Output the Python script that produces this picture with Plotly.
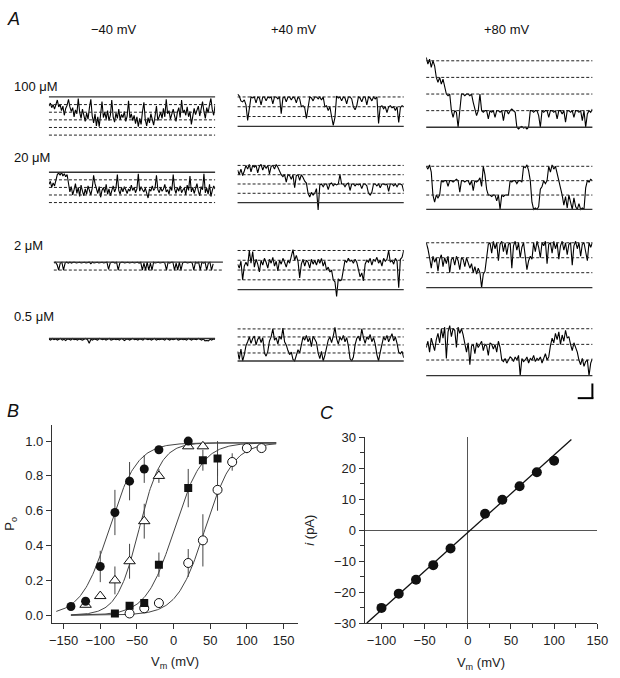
import numpy as np
import plotly.graph_objects as go

# ================= DATA =================
# ---- Panel A: single-channel records (levels = number of open channels) ----
VOLTAGES = ["−40 mV", "+40 mV", "+80 mV"]
CONCS = ["100 μM", "20 μM", "2 μM", "0.5 μM"]
DIRECTION = [-1, 1, 1]           # inward current at -40 mV
N_LEVELS = [[5, 3, 4], [4, 4, 3], [1, 4, 3], [0, 4, 3]]

TR_100_M40 = [1.2,0.8,1.4,1.0,1.6,1.1,0.4,1.3,1.0,1.8,1.2,2.4,1.5,1.1,0.3,1.3,1.9,1.4,2.6,1.7,
              2.2,0.2,2.0,2.8,1.6,2.4,3.2,2.1,2.9,1.4,0.3,2.5,3.4,2.2,3.8,2.6,3.9,2.3,0.6,2.7,
              2.0,2.9,1.8,3.1,2.4,0.4,2.6,3.3,2.1,2.8,1.6,3.0,2.3,2.7,1.9,3.2,2.5,0.5,2.8,2.2,
              3.1,2.4,3.5,2.6,3.9,2.8,3.6,1.9,0.7,3.0,3.8,2.7,3.4,2.2,2.9,3.7,2.5,1.2,3.1,2.4,
              2.0,2.8,1.5,2.6,0.3,2.2,1.8,2.9,2.3,1.6,2.5,3.2,2.0,1.4,2.7,0.4,2.1,1.7,2.4,1.3,
              2.6,1.9,3.6,2.2,1.5,2.3,1.8,1.2,2.5,1.6,0.6,1.9,2.8,1.4,2.1,1.0,0.2,1.7,2.4,1.1]
TR_100_P40 = [3.3,3.1,2.6,2.5,2.7,2.2, 0.6,1.8,
              3.0,2.9,3.0,2.4,3.0,2.9,2.2,3.0,3.0,2.6,3.0,2.9,3.0,2.3,3.0,3.0,2.8,3.0,1.3,2.9,
              3.0,2.5,3.0,3.0,2.7,3.0,2.9,2.4,3.0,2.8,
              2.0,2.1,1.9,0.8,2.0,
              3.0,2.9,2.6,3.0,3.0,2.8,3.0,2.7,3.0,
              2.0,2.1,1.6,2.0, 1.0,0.1,0.9,
              3.1,2.9,3.0,2.6,3.0,2.9,2.3,3.0,3.0,2.8, 2.0,1.7,2.1,
              3.0,2.9,2.5,3.0,3.0,2.2,3.0,2.9,2.6,3.0,2.8,3.0,
              0.3,2.0,2.1,1.8,2.0,1.4,2.0,2.1,1.9,2.0,1.6,2.0,0.4,1.9,2.1,2.0]
TR_100_P80 = [4.2,3.8,4.1,3.6,4.0,3.7, 3.0,2.7,3.0,2.6,2.9,2.5, 2.0,1.9,2.0,
              1.0,0.6,1.0,0.9,0.0,1.0, 2.0,2.0,1.9,2.0,2.0,1.9,2.0,1.5, 1.0,0.7,1.0, 2.0,
              1.0,0.9,1.0,1.0,0.5,1.0,0.9,1.0,0.6,1.0,1.0,0.9,1.0,0.4,1.0,1.0,0.8,1.0,1.1,1.0,0.9,
              0.0,-0.1,0.0,0.05,-0.05,0.0,-0.1,0.0,
              1.0,1.0,0.9,1.0,1.0,0.7,0.0,1.0,0.9,1.0,1.0,0.6,1.0,1.0,0.9,1.0,0.5,1.0,1.0,0.8,
              1.0,0.3,1.0,1.0,0.9,1.0,0.6,1.0,1.0,0.9,1.0,0.4,1.0,0.0,0.8,1.0,0.9,1.1]
TR_20_M40 = [1.6,1.2,2.0,1.4,1.8,1.1,0.3,0.1,0.4,0.0,0.5,0.2,0.6,0.3,1.4,2.6,1.9,3.0,2.3,1.5,
             2.8,2.0,3.2,1.7,2.5,3.1,2.2,2.9,1.8,2.6,3.0,2.1,0.4,1.5,2.3,2.8,1.9,3.3,2.4,2.0,
             2.7,1.6,2.9,2.2,3.1,2.5,1.8,2.6,2.1,0.3,2.4,2.9,2.0,2.6,1.9,2.3,2.8,2.2,2.5,1.7,
             2.4,2.0,2.7,2.2,0.2,2.5,1.9,2.3,2.6,2.1,2.8,3.4,2.2,2.5,1.8,2.4,2.1,0.4,2.3,2.7,
             2.0,2.5,2.2,1.6,2.6,2.3,2.9,1.9,2.4,0.3,2.2,2.8,2.0,2.5,1.8,2.7,2.3,2.1,3.0,1.7,
             2.4,0.5,2.6,2.0,2.8,2.2,1.5,2.5,3.1,1.9,2.3,0.2,2.7,2.1,2.9,1.6,3.2,2.4,1.8,2.2]
TR_20_P40 = [3.5,3.0,3.6,2.9,3.4,
             4.0,3.6,4.1,3.3,4.0,3.8,4.0,3.2,3.9,4.1,3.5,4.0,3.7,4.0,3.1,3.9,4.0,3.6,4.1,3.8,3.4,
             3.0,2.8,3.0,2.2,3.0,2.9,2.5,3.0,1.6,2.9,3.0,2.4,3.0,2.7,
             2.3,2.1, 1.0,0.6,1.1,0.8,1.0, 1.5, -0.8,
             1.9,2.0,1.7,2.0,2.0,1.4,2.0,2.1,1.8,2.0,1.9,2.0, 3.0,
             2.0,2.0,1.7,2.0,2.1,1.3,2.0,2.0,1.8,2.0,1.9,2.0,1.5,2.0,2.0,1.8,
             1.0,0.8,1.1,
             2.0,2.0,1.8,2.0,1.6,2.0,2.0,1.9,2.0,1.2,2.0,2.0,1.8,2.0,1.7,2.0,2.0,1.9,1.2]
TR_20_P80 = [3.0,2.8,3.1,2.6, 1.0,0.5,1.0,0.8,1.0,
             2.0,1.9,2.0,2.0,1.6,2.0,2.0,1.9,2.0,2.1,2.0,1.2,2.0,2.0,1.9,2.0,2.0,1.7,2.0,1.3,
             2.0,1.9,2.0,2.2,1.6,
             3.0,2.4, 1.4,1.0,
             1.0,0.9,1.0,1.0,0.6,1.0,0.0,1.0,0.9,1.0,1.0,1.0,
             2.0,1.9,2.0,2.0,1.8,2.0,2.0,1.9, 3.0,2.9,3.1,2.7, 2.0,
             0.5,0.0,0.1,0.0,0.2, 1.4,1.6, 2.0,1.8,2.0, 3.0,2.6,3.1,2.8,3.0,2.5, 2.0,1.6,
             1.0,0.3,0.9,0.1,1.0,0.5,0.0,0.8,0.2,0.0,0.4,0.0,0.1,0.0,
             1.5,2.0,1.9,2.1,2.0]
TR_2_M40 = [0.1,0.0,0.3,1.0,0.1,0.0,1.0,0.1,0.0,0.1,
            0.0,0.1,0.0,0.0,0.1,0.0,0.0,0.1,0.0,0.0,
            0.1,0.0,0.0,0.2,0.0,0.1,0.0,0.0,0.1,0.0,
            0.0,0.1,0.0,0.0,0.9,0.1,0.0,0.0,0.1,0.0,
            1.0,0.1,0.0,0.0,0.1,0.0,0.0,0.1,0.0,0.0,
            0.1,0.0,0.0,0.1,0.0,1.0,0.1,1.0,0.0,1.0,
            0.1,1.0,0.0,0.1,0.0,0.0,0.1,0.0,0.0,0.1,
            1.0,0.0,0.1,0.0,0.0,1.0,0.1,1.0,0.0,1.0,
            0.1,0.0,0.0,0.1,0.0,0.0,0.1,1.0,0.0,0.1,
            0.0,1.0,0.0,0.1,0.0,1.0,0.1,0.0,1.0,0.2]
TR_2_P40 = [2.6,2.2,2.9,1.0,2.4,2.8,
            2.4,4.0,2.7,3.9,2.3,3.1,2.6,1.8,3.0,2.5,3.2,2.8,2.2,3.1,2.7,3.3,2.4,2.9,1.9,3.0,
            2.6,3.2,2.8,2.3,3.0,2.7,3.4,4.1,3.0,3.5,2.9,1.2,2.6,3.1,2.4,3.0,2.8,2.2,3.1,2.6,
            3.0,2.5,3.1,2.7,3.2,2.4,2.9, 2.0,2.3,1.8,2.0,
            1.0,0.8,-0.7,1.1,0.9,1.0,
            2.0,3.0,2.8,3.2,2.9,3.0,2.7,3.1,2.8, 2.0,1.3,1.7,0.9,
            2.6,3.0,2.8,3.2,2.5,3.1,2.9,3.3,2.7,3.0,2.4,3.2,2.9,3.1,4.0,2.8,3.0,2.6,3.2,2.9,
            0.2,3.1,3.3,4.0]
TR_2_P80 = [3.0,2.6,
            2.0,1.3,2.1,1.7,2.0,1.1,1.9,2.2,1.4,2.0,1.6,2.1,1.0,1.9,2.0,1.5,2.1,1.8,1.2,2.0,
            1.9,1.4,2.0,1.7,1.3,1.6,1.0,1.4,0.9,1.3,
            1.0,0.0,0.9,1.1, 2.2,2.9,
            3.0,2.3,3.1,2.6,3.0,1.8,2.9,3.1,2.4,3.0,2.2,2.9,3.0,1.3,2.8,3.1,2.5,3.0,2.0,2.7,3.0,
            2.0,1.2,1.8,2.1,1.9,
            3.0,2.4,3.1,2.7,2.0,3.0,2.8,3.1,1.6,2.9,3.0,2.3,3.1,2.6,3.0,1.9,2.8,3.1,2.5,3.0,
            2.2,2.9,3.0,1.5,2.8,3.1,2.6,3.0,2.1,2.9,3.0,2.4,1.8,3.0,2.7,3.0]
TR_05_M40 = [0.1,0.2,0.0,0.15,0.05,0.2,0.1,0.0,0.2,0.1,0.25,0.05,0.1,0.2,0.0,0.15,0.1,0.2,0.05,0.1,
             0.2,0.1,0.0,0.15,0.6,0.1,0.2,0.05,0.1,0.2,0.0,0.1,0.15,0.05,0.2,0.1,0.0,0.2,0.1,0.05,
             0.15,0.1,0.2,0.0,0.1,0.25,0.1,0.05,0.2,0.1,0.0,0.15,0.1,0.2,0.05,0.1,0.2,0.0,0.1,0.15,
             0.05,0.2,0.1,0.0,0.2,0.1,0.15,0.05,0.1,0.2,0.0,0.1,0.2,0.05,0.15,0.1,0.0,0.2,0.1,0.05,
             0.15,0.1,0.2,0.0,0.1,0.2,0.05,0.1,0.15,0.0,0.1,0.2,0.05,0.3,0.25,0.3,0.1,0.2,0.05,0.1]
TR_05_P40 = [1.2,0.2,1.5,0.0,0.8,1.9,
             2.4,3.0,2.2,2.8,3.1,2.0,2.7,3.0,2.3,2.9, 1.0,0.6,1.2,
             2.5,3.0,4.0,2.6,2.9,2.1,3.1,2.7,4.1,2.4,2.0,
             1.3,0.8,1.1,0.2,0.0,0.9,1.4,1.0,
             2.2,3.0,2.6,3.2,2.4,2.9,1.8,3.1,2.7,2.3, 1.0,0.3,1.2,0.0,0.7,
             1.8,2.6,3.0,2.3,3.1,4.2,2.8,2.1,3.0,2.6,3.2,2.4,2.9,1.9, 0.3,0.0,0.5,
             2.0,2.8,3.1,2.5,4.0,2.9,2.2,3.0,2.7,3.3,2.4,2.9,2.1, 0.8,0.0,1.1,
             2.3,3.0,2.6,3.2,2.4,2.9,3.4,2.5,3.0,2.2, 1.1,0.9,1.2,0.4]
TR_05_P80 = [1.8,2.2,1.5,2.4,2.0,1.6,2.3,2.7,2.1,
             3.0,2.4,3.1,1.1,2.8,3.2,2.5,3.0,2.9,1.8,3.1,2.7,3.0,2.6,
             2.0,1.5,2.1,0.7,1.9,2.0,1.4,2.1,1.8,2.0,2.2,1.6,2.0,1.9,1.3,2.1,2.0,1.7,2.0,1.5,2.2,1.8,
             1.0,0.9,1.1,0.8,1.0,1.2,
             1.1,0.9,1.2,1.0,1.3,0.0,1.1,0.9,1.0,1.2,0.8,1.1,1.0,1.3,0.9,1.1,1.0,1.2,0.8,1.1,1.4,1.0,1.2,
             1.9,2.4,2.1,2.7,2.3,2.8,2.0,2.6,2.2,2.9,2.4,2.5,
             2.0,1.6,2.1,1.8,1.5,
             1.0,0.7,1.1,0.6,0.9,1.0,0.0,0.8,1.1]

TRACES = [[TR_100_M40, TR_100_P40, TR_100_P80],
          [TR_20_M40, TR_20_P40, TR_20_P80],
          [TR_2_M40, TR_2_P40, TR_2_P80],
          [TR_05_M40, TR_05_P40, TR_05_P80]]

# ---- Panel B: open probability vs voltage ----
B_V_FC = [-140, -120, -100, -80, -60, -40, -20, 20]
B_P_FC = [0.05, 0.08, 0.28, 0.59, 0.77, 0.84, 0.95, 1.00]
B_E_FC = [0.0, 0.01, 0.09, 0.13, 0.11, 0.08, 0.02, 0.0]
B_V_OT = [-120, -100, -80, -60, -40, -20, 20, 40]
B_P_OT = [0.06, 0.11, 0.20, 0.31, 0.54, 0.80, 0.97, 0.97]
B_E_OT = [0.01, 0.01, 0.08, 0.10, 0.10, 0.04, 0.01, 0.01]
B_V_FS = [-80, -60, -40, -20, 20, 40, 60]
B_P_FS = [0.01, 0.055, 0.07, 0.29, 0.73, 0.89, 0.90]
B_E_FS = [0.0, 0.01, 0.01, 0.07, 0.11, 0.06, 0.10]
B_V_OC = [-60, -40, -20, 20, 40, 60, 80, 100, 120]
B_P_OC = [0.01, 0.04, 0.07, 0.30, 0.43, 0.72, 0.88, 0.96, 0.96]
B_E_OC = [0.0, 0.02, 0.01, 0.08, 0.15, 0.12, 0.05, 0.03, 0.01]
# Boltzmann fit parameters: V1/2 (mV), slope k (mV), fit start (mV)
FIT_VHALF = [-88, -47, 1, 43]
FIT_K = [19, 15, 19, 19]
FIT_START = [-160, -140, -140, -140]
FIT_END = 140
FIT_PMAX = 0.99

# ---- Panel C: unitary current vs voltage ----
IV_V = [-100, -80, -60, -40, -20, 20, 40, 60, 80, 100]
IV_I = [-25.1, -20.5, -16.0, -11.3, -5.9, 5.3, 9.8, 14.2, 18.7, 22.4]
IV_E = [0.6, 0.6, 0.6, 0.6, 0.6, 0.6, 0.6, 0.6, 0.6, 1.0]
IV_G = 0.25     # pA/mV
IV_EREV = 3.0   # mV
IV_FIT_END = 120

# ================= FIGURE =================
W, H = 620, 678
FONT = "Liberation Sans, Arial, Helvetica, sans-serif"
FS = 13
def px(x): return x / W
def py(y): return 1 - y / H

fig = go.Figure()
layout = {}
shapes = []
annotations = []

# ---- Panel A geometry (pixels) ----
COL_SPAN = [(47, 217), (240, 410), (433, 603)]
CLOSED_PX = [[92, 122, 123], [169, 200, 207], [261, 289, 287], [339, 362, 377]]
LEVEL_PX = [[7.8, 10, 17], [7.75, 9.5, 14.7], [8, 10, 15.3], [8, 8.2, 16]]
SPECIAL_SPAN = {(2, 0): (52, 225, 215)}   # (line start, line end, trace end)

ax = 3
for r in range(4):
    for c in range(3):
        lev = np.array(TRACES[r][c], dtype=float) * DIRECTION[c]
        n = len(lev)
        t = np.arange(n)
        x0, x1 = COL_SPAN[c]
        tx1 = x1
        if (r, c) in SPECIAL_SPAN:
            x0, x1, tx1 = SPECIAL_SPAN[(r, c)]
        xr = [0, (n - 1) * (x1 - x0) / (tx1 - x0)]
        cpx, s = CLOSED_PX[r][c], LEVEL_PX[r][c]
        lv = [DIRECTION[c] * k for k in range(1, N_LEVELS[r][c] + 1)]
        vals = list(lev) + lv + [0]
        ymin, ymax = min(vals) - 1.0, max(vals) + 1.0
        top, bot = cpx - ymax * s, cpx - ymin * s
        layout[f"xaxis{ax}"] = dict(domain=[px(x0), px(x1)], range=xr, visible=False,
                                    anchor=f"y{ax}", fixedrange=True)
        layout[f"yaxis{ax}"] = dict(domain=[py(bot), py(top)], range=[ymin, ymax],
                                    visible=False, anchor=f"x{ax}", fixedrange=True)
        fig.add_trace(go.Scatter(x=t, y=lev, mode="lines", xaxis=f"x{ax}", yaxis=f"y{ax}",
                                 line=dict(color="#000", width=1.1), hoverinfo="skip"))
        shapes.append(dict(type="line", xref=f"x{ax} domain", yref=f"y{ax}", x0=0, x1=1,
                           y0=0, y1=0, line=dict(color="#333", width=1.3)))
        for L in lv:
            shapes.append(dict(type="line", xref=f"x{ax} domain", yref=f"y{ax}", x0=0, x1=1,
                               y0=L, y1=L, line=dict(color="#222", width=1, dash="3px,2px")))
        ax += 1

HEADER_X = [113, 297, 515]
for c, v in enumerate(VOLTAGES):
    annotations.append(dict(text=v, x=px(HEADER_X[c]), y=py(23), xref="paper", yref="paper",
                            showarrow=False, xanchor="center", yanchor="middle",
                            font=dict(size=FS, family=FONT, color="#111")))
ROW_Y = [81, 154, 244, 317]
for r, cc in enumerate(CONCS):
    annotations.append(dict(text=cc, x=px(9), y=py(ROW_Y[r]), xref="paper", yref="paper",
                            showarrow=False, xanchor="left", yanchor="middle",
                            font=dict(size=FS, family=FONT, color="#111")))
for lab, (lx, ly) in zip(["A", "B", "C"], [(2, 12), (2, 413), (322, 415)]):
    annotations.append(dict(text=f"<i>{lab}</i>", x=px(lx), y=py(ly), xref="paper", yref="paper",
                            showarrow=False, xanchor="left", yanchor="middle",
                            font=dict(size=18, family=FONT, color="#111")))
# scale bar
shapes.append(dict(type="line", xref="paper", yref="paper", x0=px(603), x1=px(603),
                   y0=py(385), y1=py(400.5), line=dict(color="#000", width=2)))
shapes.append(dict(type="line", xref="paper", yref="paper", x0=px(588), x1=px(604),
                   y0=py(400), y1=py(400), line=dict(color="#000", width=2)))

# ---- Panel B ----
for vh, k, vs in zip(FIT_VHALF, FIT_K, FIT_START):
    v = np.linspace(vs, FIT_END, 200)
    p = FIT_PMAX / (1 + np.exp(-(v - vh) / k))
    fig.add_trace(go.Scatter(x=v, y=p, mode="lines", line=dict(color="#444", width=1),
                             xaxis="x", yaxis="y", hoverinfo="skip"))
styles = [
    (B_V_OC, B_P_OC, B_E_OC, dict(symbol="circle", size=9, color="white", line=dict(color="#111", width=1))),
    (B_V_FS, B_P_FS, B_E_FS, dict(symbol="square", size=8, color="#111", line=dict(color="#111", width=0))),
    (B_V_OT, B_P_OT, B_E_OT, dict(symbol="triangle-up", size=10, color="white", line=dict(color="#111", width=1))),
    (B_V_FC, B_P_FC, B_E_FC, dict(symbol="circle", size=9, color="#111", line=dict(color="#111", width=0))),
]
for vv, pp, ee, mk in styles:
    fig.add_trace(go.Scatter(x=vv, y=pp, mode="markers", marker=mk, xaxis="x", yaxis="y",
                             error_y=dict(type="data", array=ee, visible=True, color="#444",
                                          thickness=1, width=0)))

axis_common = dict(showline=True, linecolor="#333", linewidth=1, ticks="outside", ticklen=5,
                   tickcolor="#333", tickwidth=1, showgrid=False, zeroline=False,
                   tickfont=dict(size=FS, family=FONT, color="#222"), fixedrange=True)
layout["xaxis"] = dict(axis_common, domain=[px(50), px(302)], range=[-166, 170],
                       tickvals=[-150, -100, -50, 0, 50, 100, 150], anchor="y",
                       title=dict(text="V<sub>m</sub> (mV)", standoff=10,
                                  font=dict(size=FS, family=FONT, color="#222")))
layout["yaxis"] = dict(axis_common, domain=[py(630), py(427)], range=[-0.045, 1.095],
                       tickvals=[0, 0.2, 0.4, 0.6, 0.8, 1.0], tickformat=".1f", anchor="x",
                       title=dict(text="P<sub>o</sub>", standoff=7,
                                  font=dict(size=FS, family=FONT, color="#222")))

# ---- Panel C ----
vfit = [IV_EREV - 30 / IV_G, IV_FIT_END]
ifit = [IV_G * (v - IV_EREV) for v in vfit]
fig.add_trace(go.Scatter(x=vfit, y=ifit, mode="lines", line=dict(color="#111", width=1.3),
                         xaxis="x2", yaxis="y2", hoverinfo="skip"))
fig.add_trace(go.Scatter(x=IV_V, y=IV_I, mode="markers", xaxis="x2", yaxis="y2",
                         marker=dict(symbol="circle", size=10, color="#111"),
                         error_y=dict(type="data", array=IV_E, visible=True, color="#111",
                                      thickness=1.5, width=0)))
layout["xaxis2"] = dict(axis_common, domain=[px(370), px(608)], range=[-119.5, 150],
                        tickvals=[-100, -50, 0, 50, 100, 150], anchor="y2",
                        minor=dict(dtick=25, tick0=0, ticklen=4, tickcolor="#333", ticks="outside"),
                        zeroline=True, zerolinecolor="#555", zerolinewidth=1,
                        title=dict(text="V<sub>m</sub> (mV)", standoff=11,
                                   font=dict(size=FS, family=FONT, color="#222")))
layout["yaxis2"] = dict(axis_common, domain=[py(630), py(440)], range=[-30, 30],
                        tickvals=[-30, -20, -10, 0, 10, 20, 30], anchor="x2",
                        minor=dict(dtick=5, tick0=0, ticklen=4, tickcolor="#333", ticks="outside"),
                        zeroline=True, zerolinecolor="#555", zerolinewidth=1,
                        title=dict(text="<i>i</i> (pA)", standoff=16,
                                   font=dict(size=FS, family=FONT, color="#222")))

fig.update_layout(width=W, height=H, margin=dict(l=0, r=0, t=0, b=0),
                  paper_bgcolor="white", plot_bgcolor="white", showlegend=False,
                  shapes=shapes, annotations=annotations, font=dict(family=FONT), **layout)
fig.write_html("out.html", config={"displayModeBar": False},
               post_script="document.body.style.margin='0';document.body.style.overflow='hidden';")
